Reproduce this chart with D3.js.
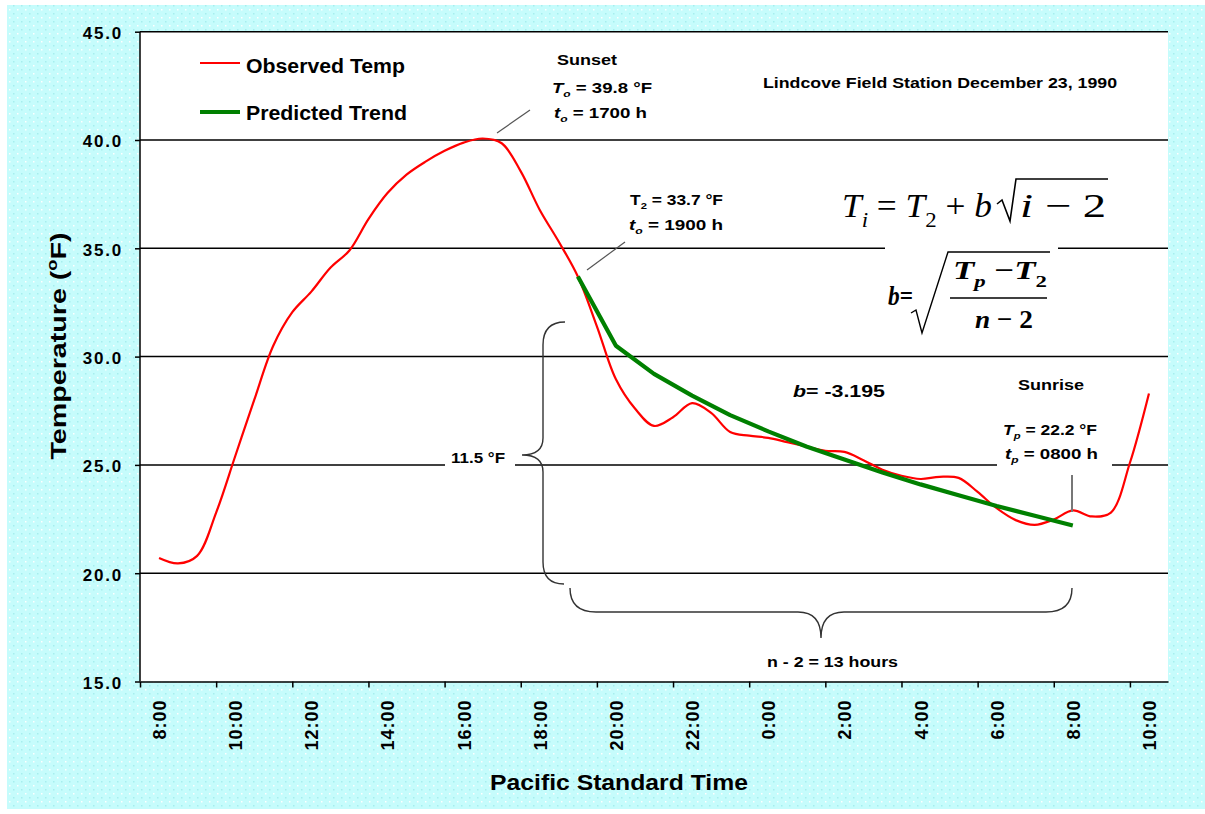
<!DOCTYPE html>
<html lang="en">
<head>
<meta charset="UTF-8">
<title>Lindcove Field Station December 23, 1990</title>
<script src="https://cdn.jsdelivr.net/npm/d3@7"></script>
<style>
  body { margin: 0; background: #fff; }
  svg { display: block; }
  text { font-family: "Liberation Sans", Arial, sans-serif; font-weight: bold; fill: #000; }
  text.serif { font-family: "Liberation Serif", "Times New Roman", serif; }
</style>
</head>
<body>
<div id="chart-container"></div>
<script>
// observed temperature, half-hourly, hours counted from midnight of Dec 23 (24 = 0:00 next day)
const obsHours = [8, 8.5, 9, 9.5, 10, 10.5, 11, 11.5, 12, 12.5, 13, 13.5, 14, 14.5, 15, 15.5, 16, 16.5,
  17, 17.5, 18, 18.5, 19, 19.5, 20, 20.5, 21, 21.5, 22, 22.5, 23, 23.5, 24, 24.5, 25, 25.5, 26, 26.5,
  27, 27.5, 28, 28.5, 29, 29.5, 30, 30.5, 31, 31.5, 32, 32.5, 33, 33.5, 34];
const obsTemps = [20.7, 20.45, 20.8, 22.8, 25.4, 28.0, 30.5, 32.05, 33.0, 34.1, 34.9, 36.35, 37.55, 38.4,
  39.0, 39.5, 39.88, 40.07, 39.85, 38.55, 36.77, 35.3, 33.7, 31.4, 28.95, 27.6, 26.8, 27.2, 27.85, 27.4,
  26.52, 26.35, 26.25, 26.05, 25.85, 25.65, 25.6, 25.22, 24.78, 24.5, 24.35, 24.45, 24.4, 23.75, 23.0,
  22.45, 22.23, 22.48, 22.9, 22.62, 22.8, 25.1, 28.3];

// predicted trend, hourly from 19:00 to 8:00
const trendHours = [19, 20, 21, 22, 23, 24, 25, 26, 27, 28, 29, 30, 31, 32];
const trendTemps = [33.7, 30.5, 29.2, 28.2, 27.3, 26.55, 25.85, 25.25, 24.65, 24.1, 23.6, 23.1, 22.65, 22.2];

const tempTicks = [15, 20, 25, 30, 35, 40, 45];
const labelHours = [8, 10, 12, 14, 16, 18, 20, 22, 24, 26, 28, 30, 32, 34];
const timeLabels = ["8:00", "10:00", "12:00", "14:00", "16:00", "18:00", "20:00", "22:00",
  "0:00", "2:00", "4:00", "6:00", "8:00", "10:00"];
const tickHours = [7.5, 9.5, 11.5, 13.5, 15.5, 17.5, 19.5, 21.5, 23.5, 25.5, 27.5, 29.5, 31.5, 33.5];

const W = 1205, H = 814;
const plot = { left: 140, right: 1168, top: 31.7, bottom: 681.5 };

const svg = d3.select("#chart-container").append("svg")
  .attr("width", W).attr("height", H);

// dotted cyan background
const pat = svg.append("defs").append("pattern")
  .attr("id", "dots").attr("width", 8).attr("height", 8)
  .attr("patternUnits", "userSpaceOnUse");
pat.append("rect").attr("width", 8).attr("height", 8).attr("fill", "#c6fcfc");
pat.append("rect").attr("x", 1).attr("y", 1).attr("width", 1.5).attr("height", 1.5).attr("fill", "#ffffff");
pat.append("rect").attr("x", 5).attr("y", 5).attr("width", 1.5).attr("height", 1.5).attr("fill", "#a6eeee");

svg.append("rect").attr("x", 7).attr("y", 5).attr("width", W - 7).attr("height", 804)
  .attr("fill", "url(#dots)");

// plot area
svg.append("rect")
  .attr("x", plot.left).attr("y", plot.top)
  .attr("width", plot.right - plot.left).attr("height", plot.bottom - plot.top)
  .attr("fill", "#fff");

const x = d3.scaleLinear().domain([7.5, 34.5]).range([plot.left, plot.right]);
const y = d3.scaleLinear().domain([15, 45]).range([plot.bottom, plot.top]);

// gridlines
svg.append("g").selectAll("line")
  .data(tempTicks.filter(d => d > 15)).join("line")
  .attr("x1", plot.left).attr("x2", plot.right)
  .attr("y1", d => y(d)).attr("y2", d => y(d))
  .attr("stroke", "#000").attr("stroke-width", 1.5);

// y axis
const yAxis = svg.append("g").attr("transform", `translate(${plot.left},0)`)
  .call(d3.axisLeft(y).tickValues(tempTicks).tickFormat(d3.format(".1f"))
    .tickSize(5).tickPadding(12));
yAxis.select(".domain").remove();
yAxis.selectAll("line").attr("stroke", "#000").attr("stroke-width", 1.5);
yAxis.selectAll("text").attr("dy", "0.4em")
  .style("font-size", "17px").style("letter-spacing", "1.8px");
svg.append("line")
  .attr("x1", plot.left).attr("x2", plot.left)
  .attr("y1", plot.top).attr("y2", plot.bottom)
  .attr("stroke", "#000").attr("stroke-width", 1.5);

// x axis: tick marks between categories, labels on categories
const xTicks = svg.append("g").attr("transform", `translate(0,${plot.bottom})`)
  .call(d3.axisBottom(x).tickValues(tickHours).tickFormat("").tickSize(6).tickSizeOuter(0));
xTicks.select(".domain").attr("stroke", "#000").attr("stroke-width", 1.5);
xTicks.selectAll("line").attr("stroke", "#000").attr("stroke-width", 1.5);

const xLabels = svg.append("g").attr("transform", `translate(0,${plot.bottom})`)
  .call(d3.axisBottom(x).tickValues(labelHours).tickSize(0)
    .tickFormat((d, i) => timeLabels[i]));
xLabels.select(".domain").remove();
xLabels.selectAll("text")
  .attr("transform", "rotate(-90)")
  .attr("x", -18).attr("y", 0).attr("dy", "0.36em")
  .style("text-anchor", "end")
  .style("font-size", "18px").style("letter-spacing", "1px");

// text with italic / sub / superscript pieces
function richText(g, px, py, size, parts, len, anchor) {
  const t = g.append("text").attr("x", px).attr("y", py).style("font-size", size + "px");
  if (anchor) t.style("text-anchor", anchor);
  let shift = 0;
  parts.forEach(([s, f]) => {
    const ts = t.append("tspan").text(s);
    let target = 0;
    if (f.includes("s")) target = Math.round(size * 0.3);
    if (f.includes("^")) target = -Math.round(size * 0.4);
    ts.attr("dy", target - shift);
    shift = target;
    if (target !== 0) ts.style("font-size", Math.round(size * 0.65) + "px");
    if (f.includes("i")) ts.style("font-style", "italic");
  });
  if (len) t.attr("textLength", len).attr("lengthAdjust", "spacingAndGlyphs");
  return t;
}

// axis titles
richText(svg, 619, 790, 22, [["Pacific Standard Time", ""]], 258, "middle");
richText(svg.append("g").attr("transform", "translate(66,346) rotate(-90)"), 0, 0, 22,
  [["Temperature (", ""], ["o", "^"], ["F)", ""]], 227, "middle");

// white boxes behind annotation text
const boxes = [[445, 448, 70, 24], [997, 418, 115, 54], [885, 232, 173, 108]];
svg.append("g").selectAll("rect").data(boxes).join("rect")
  .attr("x", d => d[0]).attr("y", d => d[1]).attr("width", d => d[2]).attr("height", d => d[3])
  .attr("fill", "#fff");

// series
const obs = obsHours.map((h, i) => [h, obsTemps[i]]);
const trend = trendHours.map((h, i) => [h, trendTemps[i]]);

svg.append("path").datum(obs)
  .attr("fill", "none").attr("stroke", "#ff0000").attr("stroke-width", 2.2)
  .attr("d", d3.line().x(d => x(d[0])).y(d => y(d[1])).curve(d3.curveCatmullRom.alpha(0.5)));

svg.append("path").datum(trend)
  .attr("fill", "none").attr("stroke", "#008000").attr("stroke-width", 4.2)
  .attr("stroke-linejoin", "round")
  .attr("d", d3.line().x(d => x(d[0])).y(d => y(d[1])));

// legend
const legend = svg.append("g");
legend.append("line").attr("x1", 200).attr("x2", 240).attr("y1", 63).attr("y2", 63)
  .attr("stroke", "#ff0000").attr("stroke-width", 2.2);
legend.append("line").attr("x1", 200).attr("x2", 240).attr("y1", 112).attr("y2", 112)
  .attr("stroke", "#008000").attr("stroke-width", 4.2);
richText(legend, 246, 73, 20, [["Observed Temp", ""]], 159);
richText(legend, 246, 120, 20, [["Predicted Trend", ""]], 161);

// annotations
const ann = svg.append("g");
richText(ann, 763, 88, 14, [["Lindcove Field Station December 23, 1990", ""]], 354);
richText(ann, 587, 65, 15, [["Sunset", ""]], 60, "middle");
richText(ann, 552, 93, 14, [["T", "i"], ["o", "is"], [" = 39.8 °F", ""]], 100);
richText(ann, 554, 118, 14, [["t", "i"], ["o", "is"], [" = 1700 h", ""]], 93);
richText(ann, 630, 205, 14, [["T", ""], ["2", "s"], [" = 33.7 °F", ""]], 93);
richText(ann, 629, 230, 14, [["t", "i"], ["o", "is"], [" = 1900 h", ""]], 94);
richText(ann, 1051, 390, 15, [["Sunrise", ""]], 66, "middle");
richText(ann, 1003, 435, 14, [["T", "i"], ["p", "is"], [" = 22.2 °F", ""]], 94);
richText(ann, 1005, 459, 14, [["t", "i"], ["p", "is"], [" = 0800 h", ""]], 93);
richText(ann, 793, 397, 17, [["b", "i"], ["=  -3.195", ""]], 92);
richText(ann, 451, 463, 14, [["11.5 °F", ""]], 54);
richText(ann, 767, 667, 14, [["n - 2 = 13 hours", ""]], 131);

// leader lines and braces
const leaders = [
  [[497, 133], [530, 110]],
  [[587, 270], [625, 242]]
];
ann.selectAll("path.leader").data(leaders).join("path").attr("class", "leader")
  .attr("d", d => d3.line()(d))
  .attr("stroke", "#555").attr("stroke-width", 1.2).attr("fill", "none");
ann.append("line").attr("x1", 1072).attr("x2", 1072).attr("y1", 475).attr("y2", 512)
  .attr("stroke", "#777").attr("stroke-width", 2);

ann.append("path")
  .attr("d", "M565,322 Q543,322 543,345 L543,438 Q543,455 522,455 Q543,455 543,472 L543,562 Q543,584 564,584")
  .attr("fill", "none").attr("stroke", "#333").attr("stroke-width", 1.4);
ann.append("path")
  .attr("d", "M570,588 Q570,612 596,612 L798,612 Q821,612 821,638 Q821,612 844,612 L1046,612 Q1072,612 1072,588")
  .attr("fill", "none").attr("stroke", "#333").attr("stroke-width", 1.4);

// formulas
const f = svg.append("g");
const serif = (px, py, size, parts, len, weight) => {
  const t = richText(f, px, py, size, parts, len).attr("class", "serif");
  t.style("font-weight", weight || "normal");
  return t;
};
serif(842, 217, 34, [["T", "i"], ["i", "is"], [" = ", ""], ["T", "i"], ["2", "s"], [" + ", ""], ["b", "i"]], 150);
f.append("path").attr("d", "M997,204 L1002,200 L1010,221 L1016,179 L1108,179")
  .attr("fill", "none").attr("stroke", "#000").attr("stroke-width", 1.6);
serif(1020, 217, 34, [["i", "i"], [" − 2", ""]], 86);

serif(888, 305, 28, [["b", "i"], ["=", ""]], 25, "bold");
f.append("path").attr("d", "M911,313 L916,310 L922,333 L948,252 L1050,252")
  .attr("fill", "none").attr("stroke", "#000").attr("stroke-width", 1.4);
serif(953, 279, 26, [["T", "i"], ["p", "is"], [" −", ""], ["T", "i"], ["2", "s"]], 94, "bold");
f.append("line").attr("x1", 950).attr("x2", 1047).attr("y1", 298).attr("y2", 298)
  .attr("stroke", "#000").attr("stroke-width", 1.4);
serif(975, 328, 26, [["n", "i"], [" − 2", ""]], 58, "bold");
</script>
</body>
</html>
